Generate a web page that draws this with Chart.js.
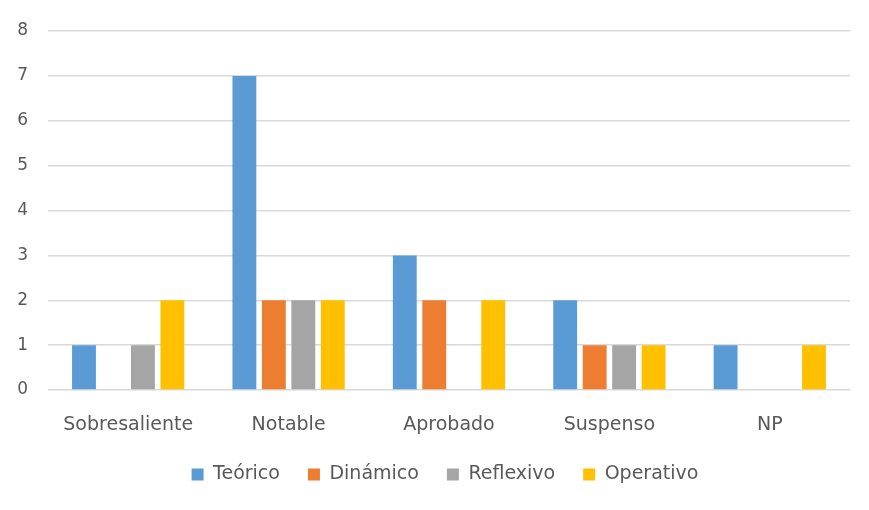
<!DOCTYPE html>
<html>
<head>
<meta charset="utf-8">
<script src="https://cdn.jsdelivr.net/npm/chart.js@4/dist/chart.umd.min.js"></script>
<style>
  html, body { margin: 0; padding: 0; background: #fff; }
  #wrap { width: 869px; height: 510px; }
</style>
</head>
<body>
<div id="wrap"><canvas id="myChart" width="869" height="510"></canvas></div>
<script>
// datos
var categorias = ["Sobresaliente", "Notable", "Aprobado", "Suspenso", "NP"];
var teorico   = [1, 7, 3, 2, 1];
var dinamico  = [0, 2, 2, 1, 0];
var reflexivo = [1, 2, 0, 1, 0];
var operativo = [2, 2, 2, 1, 1];

var colores = ["#5B9BD5", "#ED7D31", "#A5A5A5", "#FFC000"];
var nombres = ["Teórico", "Dinámico", "Reflexivo", "Operativo"];
var series = [teorico, dinamico, reflexivo, operativo];

var fuente = "'DejaVu Sans', sans-serif";
var gris = "#595959";

var datasets = series.map(function (s, i) {
  return {
    label: nombres[i],
    data: s,
    backgroundColor: colores[i],
    borderWidth: 0,
    categoryPercentage: 0.735,
    barPercentage: 0.81
  };
});

// mover la leyenda un poco a la derecha (en el original esta centrada bajo el area del grafico)
var moverLeyenda = {
  id: "moverLeyenda",
  afterLayout: function (chart) {
    if (chart.legend) {
      chart.legend.left += 20;
      chart.legend.right += 20;
    }
  }
};

var ctx = document.getElementById("myChart").getContext("2d");
var myChart = new Chart(ctx, {
  type: "bar",
  data: { labels: categorias, datasets: datasets },
  plugins: [moverLeyenda],
  options: {
    responsive: false,
    animation: false,
    layout: { padding: { top: 31, right: 19, left: 0, bottom: 16 } },
    plugins: {
      tooltip: { enabled: false },
      legend: {
        position: "bottom",
        labels: {
          boxWidth: 12,
          boxHeight: 12,
          padding: 28,
          color: gris,
          font: { family: fuente, size: 19 }
        }
      }
    },
    scales: {
      x: {
        grid: { display: false },
        border: { display: false },
        ticks: { color: gris, font: { family: fuente, size: 19 }, padding: 16 },
        afterFit: function (scale) { scale.height = 47; }
      },
      y: {
        min: 0,
        max: 8,
        grid: { color: "#d9d9d9", lineWidth: 1.5, drawTicks: false },
        border: { display: false },
        ticks: { stepSize: 1, color: gris, font: { family: fuente, size: 17 }, padding: 20 },
        afterFit: function (scale) { scale.width = 48; }
      }
    }
  }
});
</script>
</body>
</html>
